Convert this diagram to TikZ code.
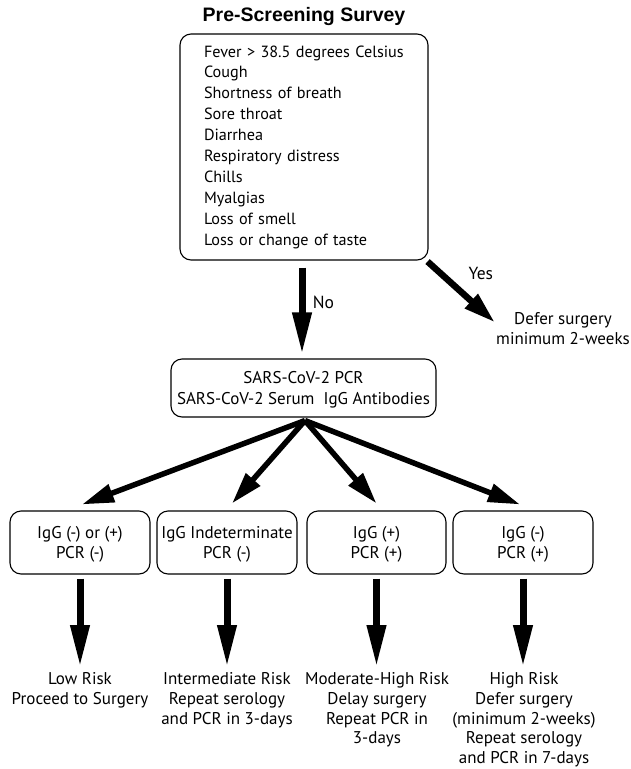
\documentclass[tikz,border=0pt]{standalone}
\usepackage{fontspec}
\setmainfont{PT Sans}
\newfontfamily\headfont{Liberation Sans}
\usetikzlibrary{arrows.meta}
\tikzset{
  fatarr/.style  = {-{Triangle[length=42pt,width=18pt]},line width=7pt},
  fanarr/.style  = {-{Triangle[length=32pt,width=18pt]},line width=5.5pt},
  rbox/.style    = {draw,rounded corners=11pt,line width=1.1pt,align=center,
                    font=\fontsize{17}{20.5}\selectfont},
  outtxt/.style  = {align=center,inner sep=0pt,font=\fontsize{17}{19.7}\selectfont}
}
\newcommand{\smallbox}[4]{%
  \node[rbox,text depth=0pt,minimum width=#3pt,minimum height=63pt] (#1) at (#2,542.5) {#4};
}

\begin{document}
\begin{tikzpicture}[x=1pt,y=-1pt]
  \useasboundingbox (0,0) rectangle (630,769);
  \node[font=\headfont\bfseries\fontsize{19.5}{22}\selectfont] (title) at (304,16) {Pre-Screening Survey};
  \node[rbox,align=left,text width=200pt,inner xsep=24pt,minimum height=226pt,
        font=\fontsize{16.2}{20.9}\selectfont] (survey) at (304,147)
    {Fever > 38.5 degrees Celsius\\Cough\\Shortness of breath\\Sore throat\\Diarrhea\\
     Respiratory distress\\Chills\\Myalgias\\Loss of smell\\Loss or change of taste};
  \node[rbox,text depth=0pt,minimum width=265pt,minimum height=58pt] (test) at (303.5,388)
    {SARS-CoV-2 PCR\\SARS-CoV-2 Serum\ \ IgG Antibodies};
  \node[outtxt] (defer) at (563,328.5) {Defer surgery\\minimum 2-weeks};
  \draw[fatarr] ([shift={(-2,7)}]survey.south) -- node[right,pos=0.4,xshift=4pt,font=\fontsize{17.5}{20}\selectfont] {No} ([shift={(-2,-4)}]survey.south |- test.north);
  \draw[fanarr,line width=6.5pt] ([shift={(-1,1)}]survey.south east) -- node[pos=0.5,anchor=south west,inner sep=0pt,xshift=4pt,yshift=9pt,font=\fontsize{17.5}{20}\selectfont] {Yes} ([shift={(-1,-6)}]defer.west);
  % four outcome boxes
  \smallbox{neg}{80}{140}{IgG (-) or (+)\\PCR (-)}
  \smallbox{ind}{227}{140}{IgG Indeterminate\\PCR (-)}
  \smallbox{pos}{376.5}{139}{IgG (+)\\PCR (+)}
  \smallbox{acute}{523}{140}{IgG (-)\\PCR (+)}
  \foreach \b/\dx/\dy in {neg/2/-6,ind/5/-7,pos/0/-7,acute/-3/-6}
    \draw[fanarr] ([xshift=1.5pt,yshift=-3pt]test.south) -- ([shift={(\dx,\dy)}]\b.north);
  \node[outtxt,anchor=north] (low) at (80,672.5) {Low Risk\\Proceed to Surgery};
  \node[outtxt,anchor=north] (mid) at (227,672.5) {Intermediate Risk\\Repeat serology\\and PCR in 3-days};
  \node[outtxt,anchor=north] (modhigh) at (377,672.5) {Moderate-High Risk\\Delay surgery\\Repeat PCR in\\3-days};
  \node[outtxt,anchor=north] (high) at (524,672.5) {High Risk\\Defer surgery\\(minimum 2-weeks)\\Repeat serology\\and PCR in 7-days};
  \foreach \b/\r in {neg/low,ind/mid,pos/modhigh,acute/high}
    \draw[fatarr] ([yshift=-4pt]\b.south) -- ([yshift=5.5pt]\b.south |- \r.north);
\end{tikzpicture}
\end{document}
